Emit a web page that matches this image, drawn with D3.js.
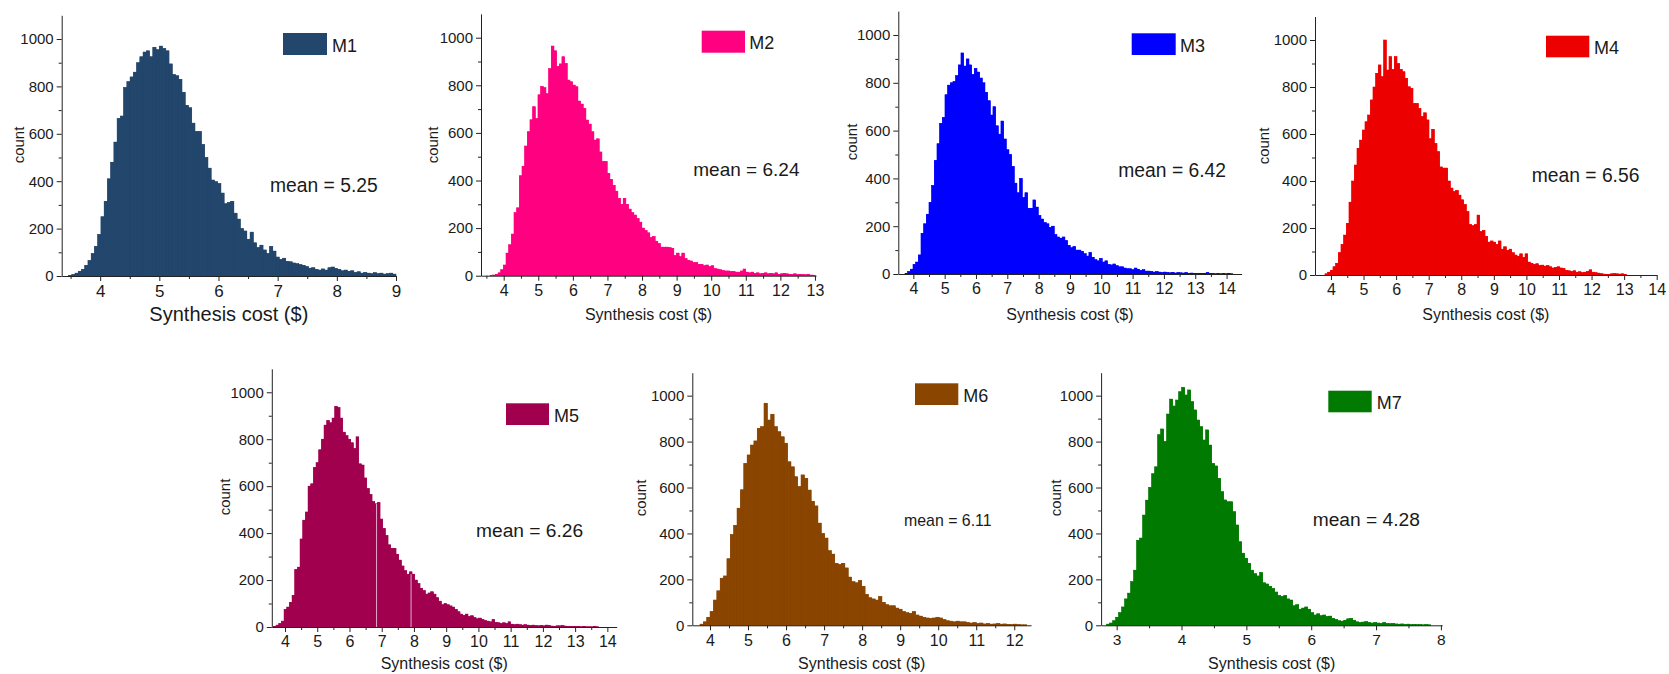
<!DOCTYPE html>
<html>
<head>
<meta charset="utf-8">
<script src="https://cdn.jsdelivr.net/npm/d3@7"></script>
<style>
  body { margin: 0; background: #fff; }
  svg { display: block; }
  text { font-family: "Liberation Sans", Arial, sans-serif; fill: #1a1a1a; }
</style>
</head>
<body>
<svg id="chart" width="1669" height="674"></svg>
<script>
// ---- data -------------------------------------------------------------
const seriesNames = ["M1", "M2", "M3", "M4", "M5", "M6", "M7"];
const seriesColors = ["#23466c", "#ff0080", "#0000ff", "#ec0000", "#a1004f", "#8a4500", "#007a00"];
const meanLabels = ["mean = 5.25", "mean = 6.24", "mean = 6.42", "mean = 6.56", "mean = 6.26", "mean = 6.11", "mean = 4.28"];

// histogram counts, equal-width bins spanning each [first edge, last edge]
const m1BinRange = [3.465, 9.0];
const m1Counts = [2,6,12,20,28,45,65,95,125,175,250,315,410,480,565,665,675,795,820,840,860,900,925,945,950,925,965,955,970,960,950,895,850,845,830,775,720,710,645,610,610,555,500,455,405,398,390,350,305,310,315,265,240,200,190,155,185,140,120,130,110,95,125,105,80,70,75,62,60,55,52,48,45,40,33,35,28,25,30,25,35,38,32,28,22,25,20,22,15,18,12,15,12,10,14,10,12,8,10,12,8];

const m2BinRange = [3.605, 13.0];
const m2Counts = [1,3,6,12,25,45,95,130,175,265,285,420,460,545,605,655,710,660,760,795,790,765,870,965,945,880,890,920,892,822,815,801,794,734,721,703,654,637,605,570,575,520,480,480,430,405,380,355,325,300,325,300,280,265,255,240,225,200,190,180,160,165,145,135,120,120,120,118,115,85,95,80,95,72,65,62,55,55,48,48,42,45,38,42,30,28,25,22,20,20,18,18,15,15,20,28,15,12,15,10,12,8,10,12,8,10,8,12,6,8,10,8,6,5,8,5,6,5,4,6,3,2];

const m3BinRange = [3.734, 14.2];
const m3Counts = [3,10,20,40,50,80,170,210,250,300,370,475,545,630,655,750,790,800,805,830,875,925,870,900,875,835,860,845,820,800,760,725,665,700,620,585,640,565,520,500,450,380,340,400,320,340,275,275,310,280,245,230,215,210,195,200,165,155,150,155,140,120,110,115,100,100,95,85,75,90,70,60,55,65,50,55,40,38,42,35,30,30,25,22,22,18,25,20,15,18,12,12,10,8,10,8,6,8,6,5,7,4,6,5,4,6,3,4,3,2,3,2,3,6,2,2,1,2,1,2,1,3,1];

const m4BinRange = [3.816, 13.07];
const m4Counts = [5,12,20,35,50,95,130,170,220,310,400,468,539,574,617,652,681,745,800,858,894,844,1000,872,929,875,929,900,875,865,837,801,794,730,730,709,674,690,660,580,620,560,525,460,455,455,400,370,355,360,340,320,300,270,215,210,215,255,185,190,165,140,145,140,130,145,110,120,105,110,95,85,80,90,75,90,55,50,45,48,40,42,38,40,35,30,32,35,30,28,20,18,15,18,12,14,10,12,15,22,12,10,8,6,4,3,3,5,6,5,4,5,3];

const m5BinRange = [3.64, 13.73];
const m5Counts = [3,8,15,25,75,85,105,135,245,255,375,455,490,600,610,680,700,755,800,860,880,870,890,940,935,890,830,815,800,785,760,810,695,690,635,590,565,535,525,530,460,420,390,350,335,335,310,285,260,240,225,235,225,200,185,165,155,140,145,150,140,125,110,95,100,95,90,85,75,65,55,50,55,45,48,40,35,38,32,28,25,22,32,20,18,15,18,15,22,12,10,12,10,8,10,8,6,8,6,5,7,5,8,6,4,3,5,5,6,4,3,2,3,2,2,1,2,1,1,1,3,1];
const m5Seams = [6.84, 7.91];

const m6BinRange = [3.737, 12.33];
const m6Counts = [5,15,35,60,110,150,205,215,290,395,435,510,590,705,742,785,803,858,865,967,894,919,865,843,821,793,712,690,647,604,655,640,589,540,520,445,400,380,325,310,270,265,270,250,210,190,185,195,170,135,120,115,110,125,100,90,85,85,75,70,60,55,52,60,45,40,35,32,30,32,35,32,25,20,18,15,18,15,15,12,10,12,8,10,6,8,5,6,8,5,6,4,3,5,3,2,2];

const m7BinRange = [2.846, 7.843];
const m7Counts = [5,10,20,35,55,80,115,140,190,240,370,380,480,545,600,660,690,830,855,800,920,985,955,981,1017,1036,1003,1025,974,938,894,865,807,851,785,705,694,640,582,546,538,538,495,437,364,314,292,270,240,225,215,230,185,180,170,160,145,130,125,130,115,110,85,90,70,75,80,70,55,45,50,42,45,38,40,30,25,20,18,22,28,30,22,15,12,14,16,12,10,12,10,8,12,8,7,8,6,5,6,4,5,3,4,3,3,2,3,2];

const countTicks = [0, 200, 400, 600, 800, 1000];
const countMinorTicks = [100, 300, 500, 700, 900];
const costTicksM1 = [4, 5, 6, 7, 8, 9];
const costTicksM2 = [4, 5, 6, 7, 8, 9, 10, 11, 12, 13];
const costTicksM3 = [4, 5, 6, 7, 8, 9, 10, 11, 12, 13, 14];
const costTicksM4 = [4, 5, 6, 7, 8, 9, 10, 11, 12, 13, 14];
const costTicksM5 = [4, 5, 6, 7, 8, 9, 10, 11, 12, 13, 14];
const costTicksM6 = [4, 5, 6, 7, 8, 9, 10, 11, 12];
const costTicksM7 = [3, 4, 5, 6, 7, 8];

const countTitle = "count";
const costTitle = "Synthesis cost ($)";

// ---- layout -----------------------------------------------------------
const layout = [
  { counts: m1Counts, range: m1BinRange, ticks: costTicksM1, xDomain: [3.35, 9.0],  left: 61.7,  right: 396,    base: 276,   top: 15.3,
    tickFont: 17, titleFont: 20, titleY: 321, countX: 18,    countY: 145,
    legend: [283, 33, 44, 22], legendText: [332, 51.5], meanPos: [270, 191.5], meanFont: 19.3 },
  { counts: m2Counts, range: m2BinRange, ticks: costTicksM2, xDomain: [3.344, 13.03], left: 481, right: 816, base: 275.7, top: 13.9,
    tickFont: 16, titleFont: 16, titleY: 320, countX: 432,   countY: 145,
    legend: [701.7, 30.7, 43.3, 22], legendText: [749.3, 49], meanPos: [693.3, 176], meanFont: 19 },
  { counts: m3Counts, range: m3BinRange, ticks: costTicksM3, xDomain: [3.52, 14.48], left: 898.3, right: 1241.6, base: 274, top: 11.1,
    tickFont: 16, titleFont: 16, titleY: 320, countX: 851,   countY: 142,
    legend: [1131.7, 33.3, 44, 21.7], legendText: [1180, 51.5], meanPos: [1118.3, 176.7], meanFont: 19.3 },
  { counts: m4Counts, range: m4BinRange, ticks: costTicksM4, xDomain: [3.51, 14.0], left: 1315, right: 1656.7, base: 275, top: 16.5,
    tickFont: 16, titleFont: 16, titleY: 320, countX: 1263,  countY: 146,
    legend: [1546, 35.7, 43.3, 21.6], legendText: [1594, 53.8], meanPos: [1531.7, 181.7], meanFont: 19.3 },
  { counts: m5Counts, range: m5BinRange, ticks: costTicksM5, xDomain: [3.59, 14.29], left: 271.8, right: 616.7, base: 627, top: 368.8,
    tickFont: 16, titleFont: 16, titleY: 668.5, countX: 224, countY: 497,
    legend: [506, 403.3, 43, 21.7], legendText: [554, 421.5], meanPos: [476, 537.3], meanFont: 19.2, seams: m5Seams },
  { counts: m6Counts, range: m6BinRange, ticks: costTicksM6, xDomain: [3.535, 12.44], left: 692.3, right: 1031, base: 625.3, top: 372.7,
    tickFont: 16, titleFont: 16, titleY: 668.5, countX: 640, countY: 498,
    legend: [915, 383.3, 43.3, 21.7], legendText: [963.3, 401.5], meanPos: [904, 525.7], meanFont: 15.9 },
  { counts: m7Counts, range: m7BinRange, ticks: costTicksM7, xDomain: [2.76, 8.02], left: 1101.1, right: 1442.2, base: 625.3, top: 372.7,
    tickFont: 15.5, titleFont: 16, titleY: 668.5, countX: 1055, countY: 498,
    legend: [1328.3, 390.7, 43.4, 21.6], legendText: [1376.7, 408.8], meanPos: [1312.7, 525.7], meanFont: 19.2 }
];

const svg = d3.select("#chart");
const axisColor = "#222";

layout.forEach((p, idx) => {
  const color = seriesColors[idx];
  const g = svg.append("g");

  const x = d3.scaleLinear().domain(p.xDomain).range([p.left, p.right]);
  const y = d3.scaleLinear().domain([0, 1100]).range([p.base, p.top]);

  // bins
  const [lo, hi] = p.range;
  const w = (hi - lo) / p.counts.length;
  const bins = p.counts.map((c, i) => ({ x0: lo + i * w, x1: lo + (i + 1) * w, c }));

  // solid step outline under the bars, so neighbouring bars never show hairline gaps
  const stepPoints = bins.map(d => ({ v: d.x0, c: d.c })).concat([{ v: hi, c: bins[bins.length - 1].c }]);
  g.append("path")
    .datum(stepPoints)
    .attr("fill", color)
    .attr("d", d3.area().curve(d3.curveStepAfter)
      .x(d => x(d.v)).y0(y(0)).y1(d => y(d.c)));

  g.append("g").selectAll("rect").data(bins).join("rect")
    .attr("x", d => x(d.x0))
    .attr("width", d => x(d.x1) - x(d.x0))
    .attr("y", d => y(d.c))
    .attr("height", d => y(0) - y(d.c))
    .attr("fill", color)
    .attr("stroke", color)
    .attr("stroke-width", 0.6);

  // thin white seams between some bars
  if (p.seams) {
    g.append("g").selectAll("line").data(p.seams).join("line")
      .attr("x1", d => x(d)).attr("x2", d => x(d))
      .attr("y1", y(0))
      .attr("y2", d => {
        const i = Math.min(bins.length - 1, Math.floor((d - lo) / w));
        return y(Math.min(bins[i].c, bins[Math.max(0, i - 1)].c));
      })
      .attr("stroke", "#ffffff").attr("stroke-opacity", 0.75).attr("stroke-width", 0.9);
  }

  // minor ticks
  const xMinor = [];
  for (let v = Math.ceil(p.xDomain[0] * 2) / 2; v <= p.xDomain[1] + 1e-9; v += 0.5) {
    if (Math.abs(v - Math.round(v)) > 1e-6) xMinor.push(v);
  }
  const minorX = g.append("g").attr("transform", `translate(0,${p.base})`)
    .call(d3.axisBottom(x).tickValues(xMinor).tickSize(3).tickFormat(""));
  minorX.select(".domain").remove();
  const minorY = g.append("g").attr("transform", `translate(${p.left},0)`)
    .call(d3.axisLeft(y).tickValues(countMinorTicks).tickSize(3).tickFormat(""));
  minorY.select(".domain").remove();

  // major axes
  const ax = g.append("g").attr("transform", `translate(0,${p.base})`)
    .call(d3.axisBottom(x).tickValues(p.ticks).tickSize(5).tickSizeOuter(0).tickPadding(4).tickFormat(d3.format("d")));
  ax.selectAll("text").attr("font-size", p.tickFont);

  const ay = g.append("g").attr("transform", `translate(${p.left},0)`)
    .call(d3.axisLeft(y).tickValues(countTicks).tickSize(5).tickSizeOuter(0).tickPadding(3).tickFormat(d3.format("d")));
  ay.selectAll("text").attr("font-size", 15);

  g.selectAll(".domain, .tick line").attr("stroke", axisColor).attr("stroke-width", 1);
  g.selectAll(".tick text").attr("fill", "#1a1a1a").style("font-family", '"Liberation Sans", Arial, sans-serif');

  // titles
  g.append("text")
    .attr("x", (p.left + p.right) / 2).attr("y", p.titleY)
    .attr("text-anchor", "middle").attr("font-size", p.titleFont)
    .text(costTitle);

  g.append("text")
    .attr("transform", `translate(${p.countX},${p.countY}) rotate(-90)`)
    .attr("text-anchor", "middle").attr("dominant-baseline", "central")
    .attr("font-size", 15)
    .text(countTitle);

  // legend
  const [lx, ly, lw, lh] = p.legend;
  g.append("rect").attr("x", lx).attr("y", ly).attr("width", lw).attr("height", lh)
    .attr("fill", color);
  g.append("text").attr("x", p.legendText[0]).attr("y", p.legendText[1])
    .attr("font-size", 18).text(seriesNames[idx]);

  // mean annotation
  g.append("text").attr("x", p.meanPos[0]).attr("y", p.meanPos[1])
    .attr("font-size", p.meanFont).text(meanLabels[idx]);
});
</script>
</body>
</html>
